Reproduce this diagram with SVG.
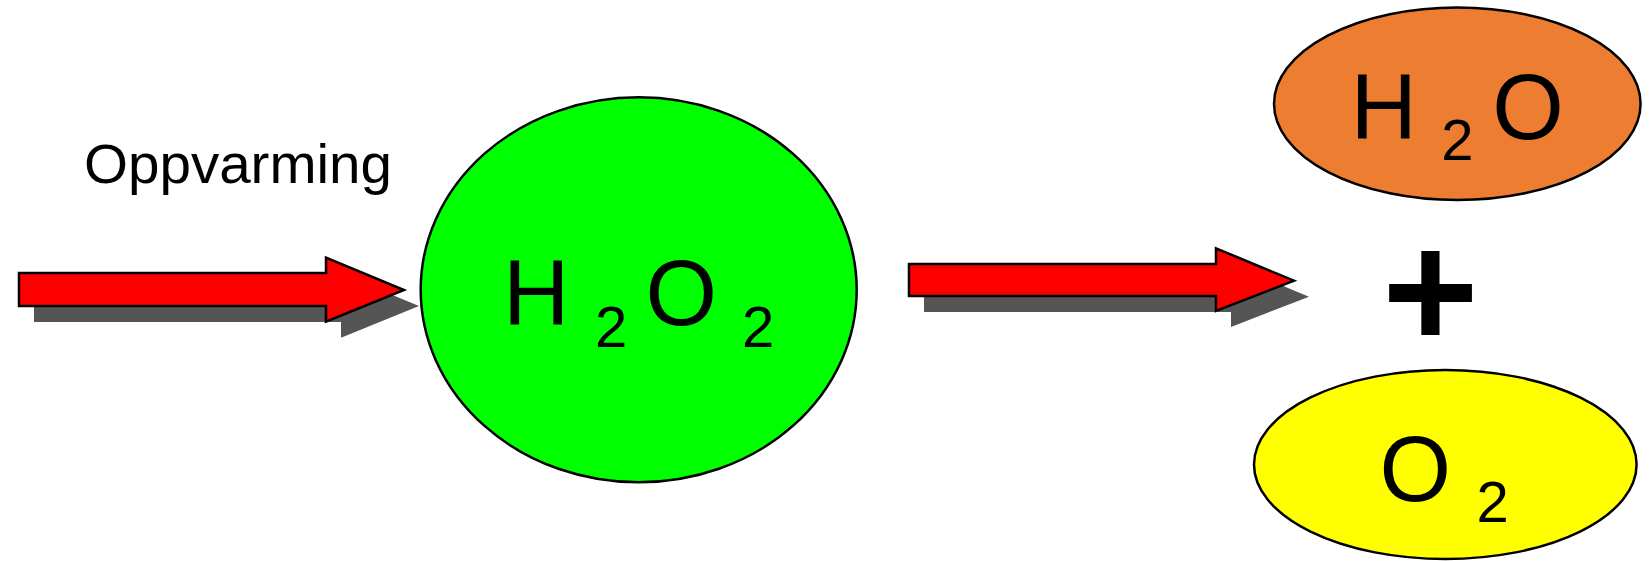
<svg xmlns="http://www.w3.org/2000/svg" width="1652" height="561" viewBox="0 0 1652 561">
<style>
.shadow{fill:#555555;stroke:none}
.arrow{fill:#FF0000;stroke:#000;stroke-width:2.5;stroke-linejoin:miter}
.node{stroke:#000;stroke-width:2.5}
.big{font-family:"Liberation Sans",Arial,sans-serif;font-size:92px;fill:#000}
.sub{font-size:58px}
.label{font-family:"Liberation Sans",Arial,sans-serif;font-size:55px;fill:#000}
</style>
<rect width="1652" height="561" fill="#fff"/>
<g id="connectors">
  <g id="arrow1">
    <polygon class="shadow" points="34,289 341,289 341,273.7 419,306 341,337.7 341,322 34,322"/>
    <polygon class="arrow" points="19,273 326,273 326,257.7 404,290 326,321.7 326,306 19,306"/>
  </g>
  <g id="arrow2">
    <polygon class="shadow" points="924,280 1231,280 1231,264.3 1309,296.7 1231,327 1231,312 924,312"/>
    <polygon class="arrow" points="909,264 1216,264 1216,248.3 1294,280.7 1216,311 1216,296 909,296"/>
  </g>
</g>
<g id="label-oppvarming">
  <text class="label" x="84" y="183" textLength="308" lengthAdjust="spacingAndGlyphs">Oppvarming</text>
</g>
<g id="node-h2o2">
  <ellipse class="node" cx="638.7" cy="289.8" rx="218" ry="192.5" fill="#00FF00"/>
  <text class="big"><tspan x="503" y="325">H</tspan><tspan class="sub" x="595" y="346.7">2</tspan><tspan x="645.6" y="325">O</tspan><tspan class="sub" x="742" y="346.7">2</tspan></text>
</g>
<g id="node-h2o">
  <ellipse class="node" cx="1457.3" cy="103.7" rx="183.3" ry="96.3" fill="#ED7D31"/>
  <text class="big"><tspan x="1350.4" y="139">H</tspan><tspan class="sub" x="1441.3" y="160">2</tspan><tspan x="1492.3" y="139">O</tspan></text>
</g>
<g id="plus">
  <text x="1430.5" y="348" text-anchor="middle" font-family="Liberation Sans, Arial, sans-serif" font-weight="bold" font-size="165" fill="#000">+</text>
</g>
<g id="node-o2">
  <ellipse class="node" cx="1445.3" cy="464.5" rx="191.3" ry="94.5" fill="#FFFF00"/>
  <text class="big"><tspan x="1379.6" y="501">O</tspan><tspan class="sub" x="1476.6" y="521.7">2</tspan></text>
</g>
</svg>
